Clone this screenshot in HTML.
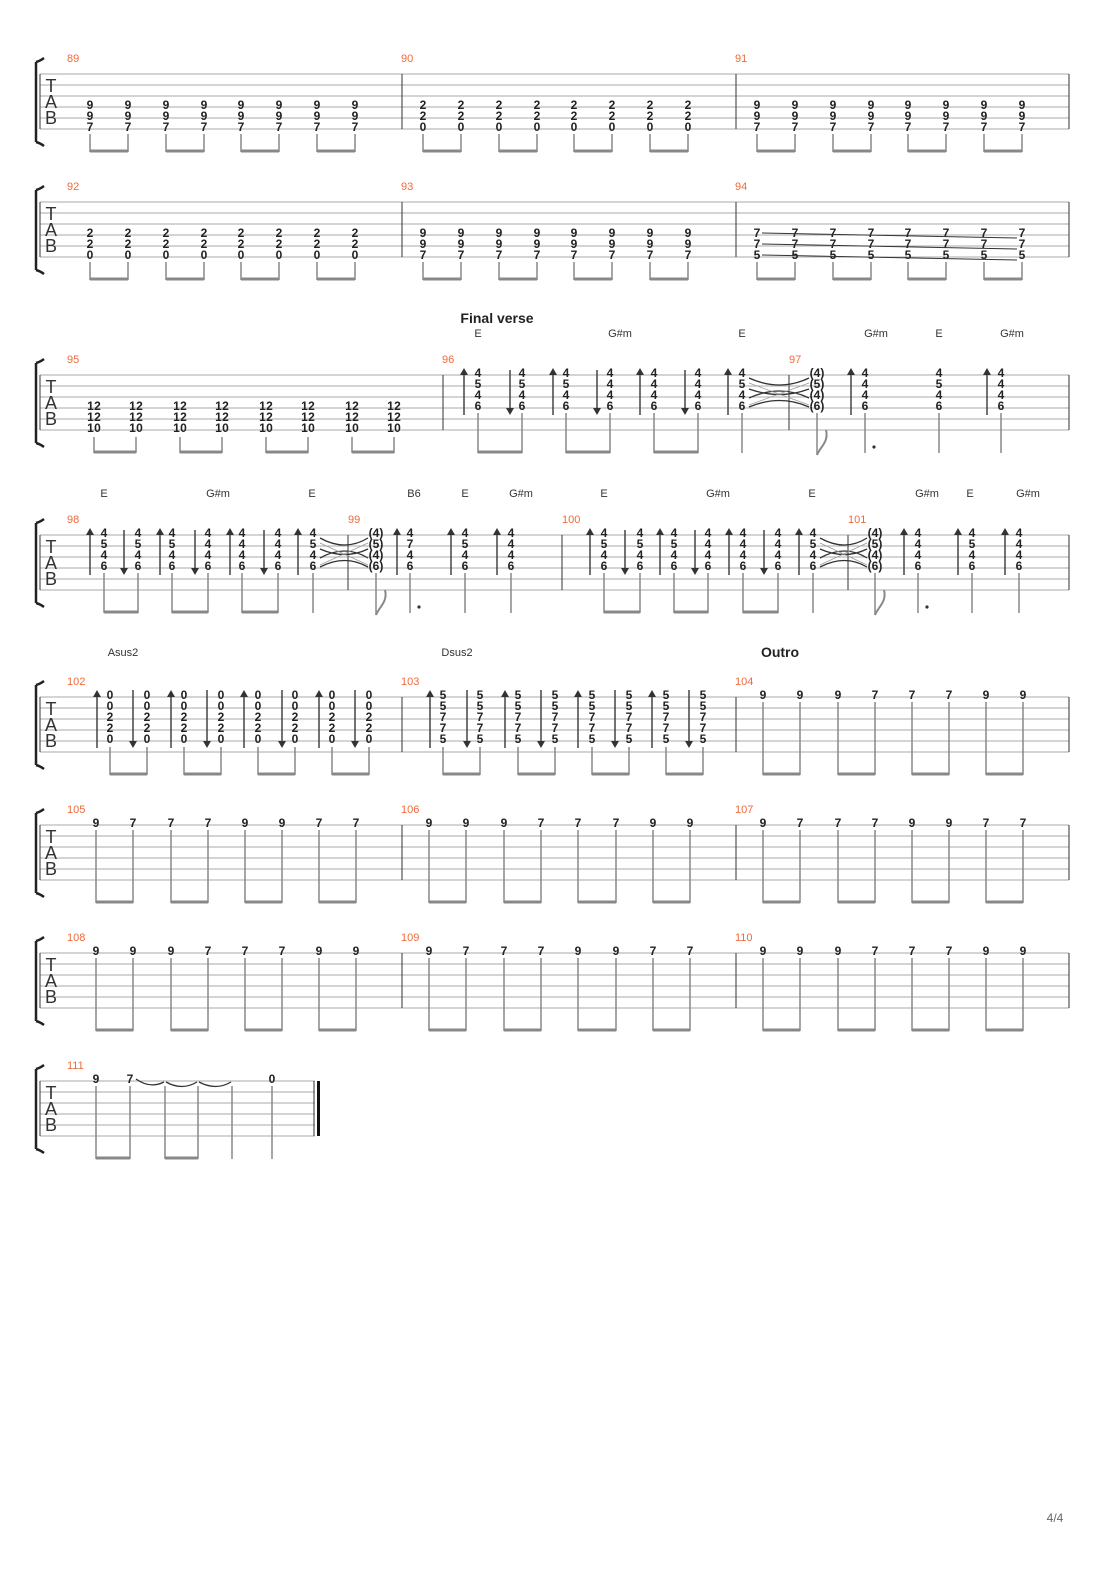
<!DOCTYPE html>
<html><head><meta charset="utf-8"><style>
html,body{margin:0;padding:0;background:#fff}
svg{display:block}
.d{font:bold 12px "Liberation Sans",sans-serif;fill:#222;text-anchor:middle}
.n{font:11px "Liberation Sans",sans-serif;fill:#f06a3a}
.c{font:11px "Liberation Sans",sans-serif;fill:#333;text-anchor:middle}
.t{font:bold 14px "Liberation Sans",sans-serif;fill:#222;text-anchor:middle}
.tab{font:18px "Liberation Sans",sans-serif;fill:#333;text-anchor:middle}
.sl{stroke:#aaa;stroke-width:1;fill:none}
.st{stroke:#888;stroke-width:1.5;fill:none}
.bm{stroke:#888;stroke-width:3;fill:none}
.bl{stroke:#333;stroke-width:1;fill:none}
.tie{stroke:#333;stroke-width:1.3;fill:none}
</style></head><body>
<svg width="1110" height="1570" viewBox="0 0 1110 1570" xmlns="http://www.w3.org/2000/svg">
<defs>
<g id="staff"><path class="sl" d="M40 0H1069M40 11H1069M40 22H1069M40 33H1069M40 44H1069M40 55H1069"/><path class="bl" d="M40 0V55M1069 0V55"/>
<path d="M36 -12V68M36 -12Q40 -13 44 -16M36 68Q40 69 44 72" stroke="#222" stroke-width="2.5" fill="none"/>
<text class="tab" x="51" y="18">T</text><text class="tab" x="51" y="34">A</text><text class="tab" x="51" y="50">B</text></g>
<g id="au"><path d="M0 -1V40" stroke="#444" stroke-width="1.5"/><polygon points="-4,0 4,0 0,-7" fill="#333"/></g>
<g id="ad"><path d="M0 -5V34" stroke="#444" stroke-width="1.5"/><polygon points="-4,33 4,33 0,40" fill="#333"/></g>
<g id="au5"><path d="M0 -1V51" stroke="#444" stroke-width="1.5"/><polygon points="-4,0 4,0 0,-7" fill="#333"/></g>
<g id="ad5"><path d="M0 -7V45" stroke="#444" stroke-width="1.5"/><polygon points="-4,44 4,44 0,51" fill="#333"/></g>
</defs>

<!-- Row 1 -->
<g transform="translate(0,74)">
<use href="#staff"/><path class="bl" d="M402 0V55M736 0V55"/>
<text class="n" x="67" y="-12">89</text><text class="n" x="401" y="-12">90</text><text class="n" x="735" y="-12">91</text>
<text class="d" y="35" x="90 128 166 204 241 279 317 355">99999999</text>
<text class="d" y="46" x="90 128 166 204 241 279 317 355">99999999</text>
<text class="d" y="57" x="90 128 166 204 241 279 317 355">77777777</text>
<text class="d" y="35" x="423 461 499 537 574 612 650 688">22222222</text>
<text class="d" y="46" x="423 461 499 537 574 612 650 688">22222222</text>
<text class="d" y="57" x="423 461 499 537 574 612 650 688">00000000</text>
<text class="d" y="35" x="757 795 833 871 908 946 984 1022">99999999</text>
<text class="d" y="46" x="757 795 833 871 908 946 984 1022">99999999</text>
<text class="d" y="57" x="757 795 833 871 908 946 984 1022">77777777</text>
<path class="st" d="M90 60V78M128 60V78M166 60V78M204 60V78M241 60V78M279 60V78M317 60V78M355 60V78M423 60V78M461 60V78M499 60V78M537 60V78M574 60V78M612 60V78M650 60V78M688 60V78M757 60V78M795 60V78M833 60V78M871 60V78M908 60V78M946 60V78M984 60V78M1022 60V78"/>
<path class="bm" d="M90 77H128M166 77H204M241 77H279M317 77H355M423 77H461M499 77H537M574 77H612M650 77H688M757 77H795M833 77H871M908 77H946M984 77H1022"/>
</g>

<!-- Row 2 -->
<g transform="translate(0,202)">
<use href="#staff"/><path class="bl" d="M402 0V55M736 0V55"/>
<text class="n" x="67" y="-12">92</text><text class="n" x="401" y="-12">93</text><text class="n" x="735" y="-12">94</text>
<text class="d" y="35" x="90 128 166 204 241 279 317 355">22222222</text>
<text class="d" y="46" x="90 128 166 204 241 279 317 355">22222222</text>
<text class="d" y="57" x="90 128 166 204 241 279 317 355">00000000</text>
<text class="d" y="35" x="423 461 499 537 574 612 650 688">99999999</text>
<text class="d" y="46" x="423 461 499 537 574 612 650 688">99999999</text>
<text class="d" y="57" x="423 461 499 537 574 612 650 688">77777777</text>
<text class="d" y="35" x="757 795 833 871 908 946 984 1022">77777777</text>
<text class="d" y="46" x="757 795 833 871 908 946 984 1022">77777777</text>
<text class="d" y="57" x="757 795 833 871 908 946 984 1022">55555555</text>
<path d="M762 31L1017 36M762 42L1017 47M762 53L1017 58" stroke="#333" stroke-width="0.9" fill="none"/>
<path class="st" d="M90 60V78M128 60V78M166 60V78M204 60V78M241 60V78M279 60V78M317 60V78M355 60V78M423 60V78M461 60V78M499 60V78M537 60V78M574 60V78M612 60V78M650 60V78M688 60V78M757 60V78M795 60V78M833 60V78M871 60V78M908 60V78M946 60V78M984 60V78M1022 60V78"/>
<path class="bm" d="M90 77H128M166 77H204M241 77H279M317 77H355M423 77H461M499 77H537M574 77H612M650 77H688M757 77H795M833 77H871M908 77H946M984 77H1022"/>
</g>

<!-- Row 3 -->
<text class="t" x="497" y="323">Final verse</text>
<g transform="translate(0,375)">
<use href="#staff"/><path class="bl" d="M443 0V55M789 0V55"/>
<text class="n" x="67" y="-12">95</text><text class="n" x="442" y="-12">96</text><text class="n" x="789" y="-12">97</text>
<text class="c" y="-38" x="478">E</text><text class="c" y="-38" x="620">G#m</text><text class="c" y="-38" x="742">E</text><text class="c" y="-38" x="876">G#m</text><text class="c" y="-38" x="939">E</text><text class="c" y="-38" x="1012">G#m</text>
<text class="d" y="35" x="90.5 97.5 132.5 139.5 176.5 183.5 218.5 225.5 262.5 269.5 304.5 311.5 348.5 355.5 390.5 397.5">1212121212121212</text>
<text class="d" y="46" x="90.5 97.5 132.5 139.5 176.5 183.5 218.5 225.5 262.5 269.5 304.5 311.5 348.5 355.5 390.5 397.5">1212121212121212</text>
<text class="d" y="57" x="90.5 97.5 132.5 139.5 176.5 183.5 218.5 225.5 262.5 269.5 304.5 311.5 348.5 355.5 390.5 397.5">1010101010101010</text>
<text class="d" y="2" x="478 522 566 610 654 698 742 865 939 1001">4444444444</text>
<text class="d" y="13" x="478 522 566 610 654 698 742 865 939 1001">5554445454</text>
<text class="d" y="24" x="478 522 566 610 654 698 742 865 939 1001">4444444444</text>
<text class="d" y="35" x="478 522 566 610 654 698 742 865 939 1001">6666666666</text>
<text class="d" y="2" x="817">(4)</text><text class="d" y="13" x="817">(5)</text><text class="d" y="24" x="817">(4)</text><text class="d" y="35" x="817">(6)</text>
<use href="#au" x="464"/><use href="#ad" x="510"/><use href="#au" x="553"/><use href="#ad" x="597"/><use href="#au" x="640"/><use href="#ad" x="685"/><use href="#au" x="728"/><use href="#au" x="851"/><use href="#au" x="987"/>
<path class="tie" d="M749 3Q780 17 809 3M749 14Q780 25 809 14M749 23Q780 9 809 23M749 32Q780 19 809 32"/>
<path d="M749 8L809 30M749 30L809 8" stroke="#999" stroke-width="0.7" fill="none"/>
<path class="st" d="M94 62V78M136 62V78M180 62V78M222 62V78M266 62V78M308 62V78M352 62V78M394 62V78M478 38V78M522 38V78M566 38V78M610 38V78M654 38V78M698 38V78M742 38V78M817 38V80M865 38V78M939 38V78M1001 38V78"/>
<path d="M817 80C820 72 829 67 826 55" stroke="#888" stroke-width="2" fill="none"/>
<circle cx="874" cy="72" r="1.6" fill="#333"/>
<path class="bm" d="M94 77H136M180 77H222M266 77H308M352 77H394M478 77H522M566 77H610M654 77H698"/>
</g>

<!-- Row 4 -->
<g transform="translate(0,535)">
<use href="#staff"/><path class="bl" d="M348 0V55M562 0V55M848 0V55"/>
<text class="n" x="67" y="-12">98</text><text class="n" x="348" y="-12">99</text><text class="n" x="562" y="-12">100</text><text class="n" x="848" y="-12">101</text>
<text class="c" y="-38" x="104">E</text><text class="c" y="-38" x="218">G#m</text><text class="c" y="-38" x="312">E</text><text class="c" y="-38" x="414">B6</text><text class="c" y="-38" x="465">E</text><text class="c" y="-38" x="521">G#m</text>
<text class="c" y="-38" x="604">E</text><text class="c" y="-38" x="718">G#m</text><text class="c" y="-38" x="812">E</text><text class="c" y="-38" x="927">G#m</text><text class="c" y="-38" x="970">E</text><text class="c" y="-38" x="1028">G#m</text>
<text class="d" y="2" x="104 138 172 208 242 278 313 410 465 511 604 640 674 708 743 778 813 918 972 1019">44444444444444444444</text>
<text class="d" y="13" x="104 138 172 208 242 278 313 410 465 511 604 640 674 708 743 778 813 918 972 1019">55544457545554445454</text>
<text class="d" y="24" x="104 138 172 208 242 278 313 410 465 511 604 640 674 708 743 778 813 918 972 1019">44444444444444444444</text>
<text class="d" y="35" x="104 138 172 208 242 278 313 410 465 511 604 640 674 708 743 778 813 918 972 1019">66666666666666666666</text>
<text class="d" y="2" x="376">(4)</text><text class="d" y="13" x="376">(5)</text><text class="d" y="24" x="376">(4)</text><text class="d" y="35" x="376">(6)</text>
<text class="d" y="2" x="875">(4)</text><text class="d" y="13" x="875">(5)</text><text class="d" y="24" x="875">(4)</text><text class="d" y="35" x="875">(6)</text>
<use href="#au" x="90"/><use href="#ad" x="124"/><use href="#au" x="160"/><use href="#ad" x="195"/><use href="#au" x="230"/><use href="#ad" x="264"/><use href="#au" x="298"/><use href="#au" x="397"/><use href="#au" x="451"/><use href="#au" x="497"/>
<use href="#au" x="590"/><use href="#ad" x="625"/><use href="#au" x="660"/><use href="#ad" x="695"/><use href="#au" x="729"/><use href="#ad" x="764"/><use href="#au" x="799"/><use href="#au" x="904"/><use href="#au" x="958"/><use href="#au" x="1005"/>
<path class="tie" d="M320 3Q345 17 368 3M320 14Q345 25 368 14M320 23Q345 9 368 23M320 32Q345 19 368 32M820 3Q845 17 867 3M820 14Q845 25 867 14M820 23Q845 9 867 23M820 32Q845 19 867 32"/>
<path d="M320 8L368 30M320 30L368 8M820 8L867 30M820 30L867 8" stroke="#999" stroke-width="0.7" fill="none"/>
<path class="st" d="M104 38V78M138 38V78M172 38V78M208 38V78M242 38V78M278 38V78M313 38V78M376 38V80M410 38V78M465 38V78M511 38V78M604 38V78M640 38V78M674 38V78M708 38V78M743 38V78M778 38V78M813 38V78M875 38V80M918 38V78M972 38V78M1019 38V78"/>
<path d="M376 80C379 72 388 67 385 55M875 80C878 72 887 67 884 55" stroke="#888" stroke-width="2" fill="none"/>
<circle cx="419" cy="72" r="1.6" fill="#333"/><circle cx="927" cy="72" r="1.6" fill="#333"/>
<path class="bm" d="M104 77H138M172 77H208M242 77H278M604 77H640M674 77H708M743 77H778"/>
</g>

<!-- Row 5 -->
<text class="t" x="780" y="657">Outro</text>
<g transform="translate(0,697)">
<use href="#staff"/><path class="bl" d="M402 0V55M736 0V55"/>
<text class="n" x="67" y="-12">102</text><text class="n" x="401" y="-12">103</text><text class="n" x="735" y="-12">104</text>
<text class="c" y="-41" x="123">Asus2</text><text class="c" y="-41" x="457">Dsus2</text>
<text class="d" y="2" x="110 147 184 221 258 295 332 369">00000000</text>
<text class="d" y="13" x="110 147 184 221 258 295 332 369">00000000</text>
<text class="d" y="24" x="110 147 184 221 258 295 332 369">22222222</text>
<text class="d" y="35" x="110 147 184 221 258 295 332 369">22222222</text>
<text class="d" y="46" x="110 147 184 221 258 295 332 369">00000000</text>
<text class="d" y="2" x="443 480 518 555 592 629 666 703">55555555</text>
<text class="d" y="13" x="443 480 518 555 592 629 666 703">55555555</text>
<text class="d" y="24" x="443 480 518 555 592 629 666 703">77777777</text>
<text class="d" y="35" x="443 480 518 555 592 629 666 703">77777777</text>
<text class="d" y="46" x="443 480 518 555 592 629 666 703">55555555</text>
<text class="d" y="2" x="763 800 838 875 912 949 986 1023">99977799</text>
<use href="#au5" x="97"/><use href="#ad5" x="133"/><use href="#au5" x="171"/><use href="#ad5" x="207"/><use href="#au5" x="244"/><use href="#ad5" x="282"/><use href="#au5" x="319"/><use href="#ad5" x="355"/>
<use href="#au5" x="430"/><use href="#ad5" x="467"/><use href="#au5" x="505"/><use href="#ad5" x="541"/><use href="#au5" x="578"/><use href="#ad5" x="615"/><use href="#au5" x="652"/><use href="#ad5" x="689"/>
<path class="st" d="M110 50V78M147 50V78M184 50V78M221 50V78M258 50V78M295 50V78M332 50V78M369 50V78M443 50V78M480 50V78M518 50V78M555 50V78M592 50V78M629 50V78M666 50V78M703 50V78M763 5V78M800 5V78M838 5V78M875 5V78M912 5V78M949 5V78M986 5V78M1023 5V78"/>
<path class="bm" d="M110 77H147M184 77H221M258 77H295M332 77H369M443 77H480M518 77H555M592 77H629M666 77H703M763 77H800M838 77H875M912 77H949M986 77H1023"/>
</g>

<!-- Row 6 -->
<g transform="translate(0,825)">
<use href="#staff"/><path class="bl" d="M402 0V55M736 0V55"/>
<text class="n" x="67" y="-12">105</text><text class="n" x="401" y="-12">106</text><text class="n" x="735" y="-12">107</text>
<text class="d" y="2" x="96 133 171 208 245 282 319 356">97779977</text>
<text class="d" y="2" x="429 466 504 541 578 616 653 690">99977799</text>
<text class="d" y="2" x="763 800 838 875 912 949 986 1023">97779977</text>
<path class="st" d="M96 5V78M133 5V78M171 5V78M208 5V78M245 5V78M282 5V78M319 5V78M356 5V78M429 5V78M466 5V78M504 5V78M541 5V78M578 5V78M616 5V78M653 5V78M690 5V78M763 5V78M800 5V78M838 5V78M875 5V78M912 5V78M949 5V78M986 5V78M1023 5V78"/>
<path class="bm" d="M96 77H133M171 77H208M245 77H282M319 77H356M429 77H466M504 77H541M578 77H616M653 77H690M763 77H800M838 77H875M912 77H949M986 77H1023"/>
</g>

<!-- Row 7 -->
<g transform="translate(0,953)">
<use href="#staff"/><path class="bl" d="M402 0V55M736 0V55"/>
<text class="n" x="67" y="-12">108</text><text class="n" x="401" y="-12">109</text><text class="n" x="735" y="-12">110</text>
<text class="d" y="2" x="96 133 171 208 245 282 319 356">99977799</text>
<text class="d" y="2" x="429 466 504 541 578 616 653 690">97779977</text>
<text class="d" y="2" x="763 800 838 875 912 949 986 1023">99977799</text>
<path class="st" d="M96 5V78M133 5V78M171 5V78M208 5V78M245 5V78M282 5V78M319 5V78M356 5V78M429 5V78M466 5V78M504 5V78M541 5V78M578 5V78M616 5V78M653 5V78M690 5V78M763 5V78M800 5V78M838 5V78M875 5V78M912 5V78M949 5V78M986 5V78M1023 5V78"/>
<path class="bm" d="M96 77H133M171 77H208M245 77H282M319 77H356M429 77H466M504 77H541M578 77H616M653 77H690M763 77H800M838 77H875M912 77H949M986 77H1023"/>
</g>

<!-- Row 8 -->
<g transform="translate(0,1081)">
<path class="sl" d="M40 0H315M40 11H315M40 22H315M40 33H315M40 44H315M40 55H315"/>
<path class="bl" d="M40 0V55M314 0V55"/><rect x="317" y="0" width="3" height="55" fill="#111"/>
<path d="M36 -12V68M36 -12Q40 -13 44 -16M36 68Q40 69 44 72" stroke="#222" stroke-width="2.5" fill="none"/>
<text class="tab" x="51" y="18">T</text><text class="tab" x="51" y="34">A</text><text class="tab" x="51" y="50">B</text>
<text class="n" x="67" y="-12">111</text>
<text class="d" y="2" x="96 130 272">970</text>
<path class="tie" d="M136 -2Q150 8 164 1M166 1Q182 10 197 1M199 1Q216 10 231 1"/>
<path class="st" d="M96 5V78M130 5V78M165 5V78M198 5V78M232 5V78M272 5V78"/>
<path class="bm" d="M96 77H130M165 77H198"/>
</g>

<text x="1055" y="1522" style="font:12px 'Liberation Sans',sans-serif;fill:#666;text-anchor:middle">4/4</text>
</svg>
</body></html>
